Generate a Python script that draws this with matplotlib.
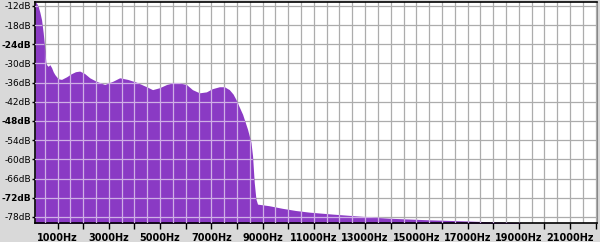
import matplotlib
matplotlib.use('Agg')
import matplotlib.pyplot as plt
import numpy as np

# spectrum (Hz, dB)
freq_hz = [120, 180, 245, 310, 377, 440, 506, 545, 590, 634, 700, 766, 830, 895,
           1023, 1155, 1350, 1544, 1700, 1867, 2062, 2256, 2517, 2840, 3151,
           3423, 3734, 4085, 4474, 4707, 4979, 5252, 5485, 5757, 6030, 6263,
           6535, 6808, 7041, 7313, 7508, 7702, 7850, 7963, 8090, 8220, 8414,
           8547, 8609, 8675, 8741, 8803, 9258, 9764, 10297, 10814, 11709, 13020,
           13926, 15482, 16910, 17814, 19050, 19200, 22050]
level_db = [-10.6, -11.2, -12.2, -14.0, -16.4, -20.4, -25.7, -29.8, -30.6, -30.9,
            -30.4, -31.3, -32.6, -33.5, -34.8, -35.0, -34.2, -33.2, -32.6, -32.4,
            -33.2, -34.5, -35.6, -36.6, -35.6, -34.5, -35.0, -35.9, -37.3, -38.2,
            -37.6, -36.6, -36.1, -36.1, -36.6, -38.2, -39.2, -38.9, -37.9, -37.3,
            -37.3, -38.2, -39.6, -41.3, -43.6, -45.9, -50.6, -54.7, -58.9, -67.2,
            -72.4, -74.0, -74.5, -75.3, -76.0, -76.5, -77.1, -77.9, -78.4, -78.9,
            -79.25, -79.5, -79.8, -81.0, -85.0]

x_ticks = list(range(1000, 22000, 2000))
x_labels = ['%dHz' % f for f in x_ticks]
y_ticks = list(range(-12, -79, -6))
y_labels = ['%ddB' % d for d in y_ticks]
bold_db = [-24, -48, -72]

xmin, xmax = 120, 22050
ymin, ymax = -79.9, -10.8

fig = plt.figure(figsize=(6, 2.42), dpi=100, facecolor='#d9d9d9')
ax = fig.add_axes([35/600, 1-223/242, 562/600, 221/242])
ax.set_facecolor('white')

purple = '#8a3ac4'
poly = ax.fill_between(freq_hz, level_db, ymin - 5, color=purple, lw=0, zorder=2)

# grid: gray on white, light lavender inside the fill
vgrid = np.arange(500, 22050, 500)
for f in vgrid:
    ax.axvline(f, color='#acacac', lw=0.9, zorder=1)
    ln = ax.axvline(f, color='#cfaee6', lw=0.9, zorder=3)
    ln.set_clip_path(poly.get_paths()[0], ax.transData)
for d in y_ticks:
    ax.axhline(d, color='#acacac', lw=0.9, zorder=1)
    ln = ax.axhline(d, color='#cfaee6', lw=0.9, zorder=3)
    ln.set_clip_path(poly.get_paths()[0], ax.transData)

ax.set_xlim(xmin, xmax)
ax.set_ylim(ymin, ymax)

ax.set_xticks(x_ticks)
ax.set_xticklabels(x_labels, fontsize=7, fontweight='bold')
ax.set_xticks(list(range(2000, 22001, 2000)), minor=True)
ax.tick_params(axis='x', which='both', direction='out', length=4, width=1, pad=3)
ax.set_yticks(y_ticks)
ax.set_yticklabels(y_labels, fontsize=6.5)
for lab, d in zip(ax.get_yticklabels(), y_ticks):
    if d in bold_db:
        lab.set_fontweight('bold')
ax.tick_params(axis='y', direction='out', length=2, width=1, pad=1)

for s in ['left', 'bottom', 'top']:
    ax.spines[s].set_color('black')
    ax.spines[s].set_linewidth(1.2)
ax.spines['right'].set_color('#888888')

fig.savefig('out.png', dpi=100, facecolor=fig.get_facecolor())
